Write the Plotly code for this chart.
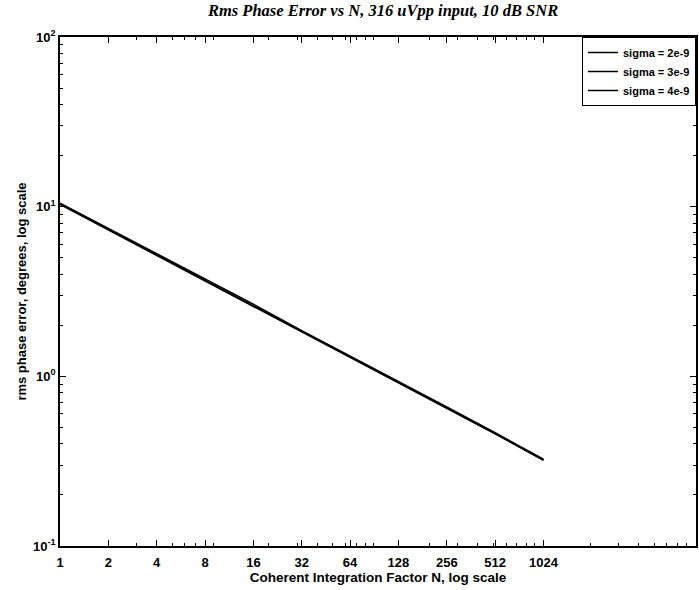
import plotly.graph_objects as go

# Data
N = [1, 2, 4, 8, 16, 32, 64, 128, 256, 512, 1024]
sigma_2e9 = [10.5, 7.45, 5.25, 3.72, 2.66, 1.86, 1.32, 0.93, 0.66, 0.465, 0.325]
sigma_3e9 = [10.4, 7.35, 5.20, 3.68, 2.62, 1.84, 1.31, 0.92, 0.65, 0.460, 0.322]
sigma_4e9 = [10.3, 7.30, 5.15, 3.65, 2.60, 1.83, 1.30, 0.915, 0.648, 0.458, 0.320]
series_names = ["sigma = 2e-9", "sigma = 3e-9", "sigma = 4e-9"]
x_ticks = [1, 2, 4, 8, 16, 32, 64, 128, 256, 512, 1024]
y_ticks = [0.1, 1, 10, 100]
y_ticktext = ["10<sup>-1</sup>", "10<sup>0</sup>", "10<sup>1</sup>", "10<sup>2</sup>"]

minor_x = [m * 10 ** k for k in range(0, 4) for m in range(2, 10)]
minor_y = [m * 10 ** k for k in range(-1, 2) for m in range(2, 10)]

fig = go.Figure()
for name, ys in zip(series_names, [sigma_2e9, sigma_3e9, sigma_4e9]):
    fig.add_trace(go.Scatter(x=N, y=ys, mode="lines", name=name,
                             line=dict(color="black", width=1.5)))

font = "Liberation Sans, Arial, sans-serif"
fig.update_layout(
    width=699, height=590,
    margin=dict(l=60, r=1, t=37, b=44),
    paper_bgcolor="white", plot_bgcolor="white",
    font=dict(family=font, size=12, color="black"),
    title=dict(text="<i>Rms Phase Error vs N, 316 uVpp input, 10 dB SNR</i>",
               font=dict(family="Liberation Serif, Times New Roman, serif", size=16.5,
                         color="black", weight="bold"),
               x=0.508, xanchor="center", xref="paper", y=0.993, yanchor="top"),
    showlegend=True,
    legend=dict(x=1, y=1, xanchor="right", yanchor="top",
                bgcolor="white", bordercolor="black", borderwidth=1,
                font=dict(family=font, size=11, color="black", weight="bold"),
                itemwidth=30, tracegroupgap=0),
    xaxis=dict(type="log", range=[0, 3.96],
               tickvals=x_ticks, ticktext=[str(v) for v in x_ticks],
               ticks="inside", ticklen=6, tickcolor="black",
               showline=True, linecolor="black", linewidth=1.5, mirror="ticks",
               showgrid=False, zeroline=False, ticklabelstandoff=4,
               minor=dict(tickvals=minor_x, ticks="inside", ticklen=3, tickcolor="black", showgrid=False),
               title=dict(text="Coherent Integration Factor N, log scale", standoff=2,
                          font=dict(family=font, size=13.5, weight="bold")),
               tickfont=dict(family=font, size=13, weight="bold")),
    yaxis=dict(type="log", range=[-1, 2],
               tickvals=y_ticks, ticktext=y_ticktext,
               ticks="inside", ticklen=6, tickcolor="black",
               showline=True, linecolor="black", linewidth=1.5, mirror="ticks",
               showgrid=False, zeroline=False,
               minor=dict(tickvals=minor_y, ticks="inside", ticklen=3, tickcolor="black", showgrid=False),
               title=dict(text="rms phase error, degrees, log scale", standoff=4,
                          font=dict(family=font, size=13, weight="bold")),
               tickfont=dict(family=font, size=13, weight="bold")),
)

fig.write_html("out.html")
